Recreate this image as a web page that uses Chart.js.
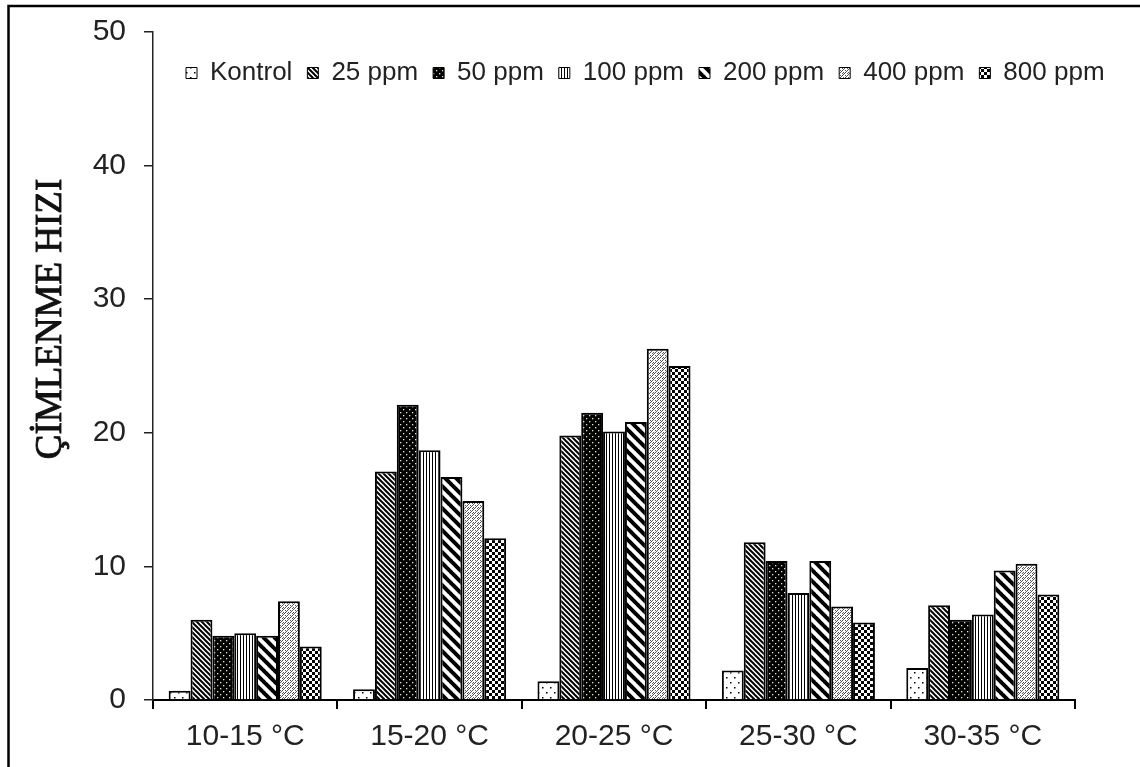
<!DOCTYPE html>
<html>
<head>
<meta charset="utf-8">
<title>Çimlenme hızı</title>
<script src="https://cdn.jsdelivr.net/npm/chart.js@4.4.1/dist/chart.umd.min.js"></script>
<style>
  html, body { margin: 0; padding: 0; background: #fff; }
  #wrap { width: 1140px; height: 767px; position: relative; }
</style>
</head>
<body>
<div id="wrap"><canvas id="chart"></canvas></div>
<script>
/* ===== DATA ===== */
const categories = ['10-15 °C', '15-20 °C', '20-25 °C', '25-30 °C', '30-35 °C'];
const seriesNames = ['Kontrol', '25 ppm', '50 ppm', '100 ppm', '200 ppm', '400 ppm', '800 ppm'];
const kontrol = [0.7, 0.8, 1.4, 2.2, 2.4];
const ppm25 = [6.0, 17.1, 19.8, 11.8, 7.1];
const ppm50 = [4.8, 22.1, 21.5, 10.4, 6.0];
const ppm100 = [5.0, 18.7, 20.1, 8.0, 6.4];
const ppm200 = [4.8, 16.7, 20.8, 10.4, 9.7];
const ppm400 = [7.4, 14.9, 26.3, 7.0, 10.2];
const ppm800 = [4.0, 12.1, 25.0, 5.8, 7.9];
const yTicks = [0, 10, 20, 30, 40, 50];
const yTitle = 'ÇİMLENME HIZI';

const FONT = "'Liberation Sans', Arial, sans-serif";
const canvas = document.getElementById('chart');
const mainCtx = canvas.getContext('2d');

/* ===== PATTERNS ===== */
function tile(w, h, draw) {
  const c = document.createElement('canvas');
  c.width = w; c.height = h;
  const g = c.getContext('2d');
  draw(g, w, h);
  return mainCtx.createPattern(c, 'repeat');
}

function diagonal(g, s, w, color) {
  g.strokeStyle = color; g.lineWidth = w;
  for (let k = -1; k <= 1; k++) {
    g.beginPath(); g.moveTo(k * s - 1, -1); g.lineTo(k * s + s + 1, s + 1); g.stroke();
  }
}

const patterns = [
  // Kontrol: sparse dots
  tile(8, 10, (g) => {
    g.fillStyle = '#fff'; g.fillRect(0, 0, 8, 10);
    g.fillStyle = '#000'; g.fillRect(2, 2, 1.5, 1.5); g.fillRect(6, 7, 1.5, 1.5);
  }),
  // 25 ppm: narrow diagonal
  tile(5, 5, (g) => {
    g.fillStyle = '#fff'; g.fillRect(0, 0, 5, 5);
    diagonal(g, 5, 2, '#000');
  }),
  // 50 ppm: dark with light dots
  tile(6, 6, (g) => {
    g.fillStyle = '#000'; g.fillRect(0, 0, 6, 6);
    g.fillStyle = '#e6e6c8'; g.fillRect(1, 1, 1.3, 1.3); g.fillRect(4, 4, 1.3, 1.3);
  }),
  // 100 ppm: vertical lines
  tile(3, 3, (g) => {
    g.fillStyle = '#fff'; g.fillRect(0, 0, 3, 3);
    g.fillStyle = '#000'; g.fillRect(0, 0, 1, 3);
  }),
  // 200 ppm: wide diagonal
  tile(11, 11, (g) => {
    g.fillStyle = '#fff'; g.fillRect(0, 0, 11, 11);
    diagonal(g, 11, 4, '#000');
  }),
  // 400 ppm: light crosshatch
  tile(5, 5, (g) => {
    g.fillStyle = '#fff'; g.fillRect(0, 0, 5, 5);
    g.fillStyle = '#555';
    g.fillRect(0, 0, 1, 1); g.fillRect(2, 0, 1, 1); g.fillRect(1, 1, 1, 1);
    g.fillRect(3, 2, 1, 1); g.fillRect(4, 3, 1, 1); g.fillRect(3, 4, 1, 1);
    g.fillRect(0, 2, 1, 1); g.fillRect(2, 3, 1, 1);
  }),
  // 800 ppm: checker
  tile(6, 6, (g) => {
    g.fillStyle = '#fff'; g.fillRect(0, 0, 6, 6);
    g.fillStyle = '#000'; g.fillRect(0, 0, 3, 3); g.fillRect(3, 3, 3, 3);
  })
];

const seriesValues = [kontrol, ppm25, ppm50, ppm100, ppm200, ppm400, ppm800];

/* ===== PLUGINS ===== */
const framePlugin = {
  id: 'frame',
  beforeDraw(chart) {
    const ctx = chart.ctx;
    ctx.save();
    ctx.fillStyle = '#fff';
    ctx.fillRect(0, 0, chart.width, chart.height);
    ctx.strokeStyle = '#000';
    ctx.lineWidth = 2.5;
    ctx.beginPath();
    ctx.moveTo(8.5, chart.height + 2);
    ctx.lineTo(8.5, 6);
    ctx.lineTo(chart.width + 2, 6);
    ctx.stroke();
    ctx.restore();

    // float legend inside the plot, like the original
    const lg = chart.legend;
    lg.left = 171; lg.right = 1138; lg.width = lg.right - lg.left;
    lg.top = 45; lg.bottom = 110; lg.height = lg.bottom - lg.top;
  },
  afterDraw(chart) {
    const ctx = chart.ctx;
    ctx.save();
    ctx.translate(51, 319);
    ctx.rotate(-Math.PI / 2);
    ctx.font = "37px 'Liberation Serif', 'Times New Roman', serif";
    ctx.fillStyle = '#111';
    ctx.strokeStyle = '#111';
    ctx.lineWidth = 0.9;
    ctx.textAlign = 'center';
    ctx.textBaseline = 'middle';
    ctx.fillText(yTitle, 0, 0);
    ctx.strokeText(yTitle, 0, 0);
    ctx.restore();
  }
};

/* ===== CHART ===== */
new Chart(canvas, {
  type: 'bar',
  data: {
    labels: categories,
    datasets: seriesNames.map((name, i) => ({
      label: name,
      data: seriesValues[i],
      backgroundColor: patterns[i],
      borderColor: '#000',
      borderWidth: 2,
      categoryPercentage: 0.83,
      barPercentage: 1.0
    }))
  },
  options: {
    responsive: true,
    maintainAspectRatio: false,
    animation: false,
    layout: { padding: { left: 0, right: 65, top: 0, bottom: 0 } },
    plugins: {
      tooltip: { enabled: false },
      legend: {
        position: 'top',
        align: 'start',
        maxHeight: 32,
        labels: {
          font: { family: FONT, size: 26 },
          color: '#222',
          boxWidth: 11,
          boxHeight: 11,
          padding: 15,
          generateLabels(chart) {
            return Chart.defaults.plugins.legend.labels.generateLabels(chart)
              .map(l => Object.assign(l, { lineWidth: 1 }));
          }
        }
      }
    },
    scales: {
      x: {
        grid: { drawOnChartArea: false, drawTicks: true, tickLength: 9, color: '#000', lineWidth: 2 },
        border: { display: true, color: '#000', width: 2 },
        ticks: { font: { family: FONT, size: 30 }, color: '#222', padding: 10 },
        afterFit(s) { s.height = 67; s.paddingLeft = 0; s.paddingRight = 0; }
      },
      y: {
        min: 0,
        max: 50,
        afterBuildTicks(s) { s.ticks = yTicks.map(v => ({ value: v })); },
        grid: { drawOnChartArea: false, drawTicks: true, tickLength: 9, color: '#222', lineWidth: 1.5 },
        border: { display: true, color: '#222', width: 1.5 },
        ticks: { font: { family: FONT, size: 30 }, color: '#222', padding: 18 },
        afterFit(s) { s.width = 153; s.paddingTop = 0; s.paddingBottom = 0; }
      }
    }
  },
  plugins: [framePlugin]
});
</script>
</body>
</html>
